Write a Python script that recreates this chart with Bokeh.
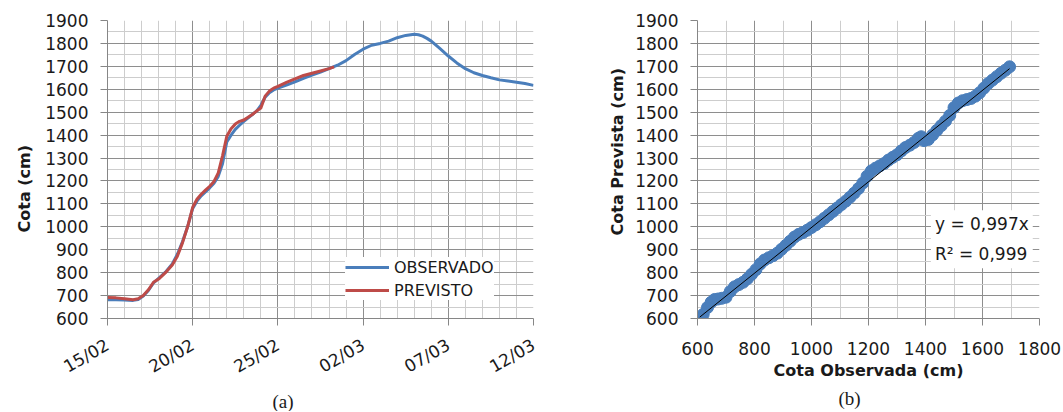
import math
from bokeh.plotting import figure
from bokeh.layouts import row
from bokeh.models import Range1d, FixedTicker, Label, Legend, LegendItem, Title
from bokeh.embed import file_html
from bokeh.resources import INLINE

# ---------------- data: chart (a) ----------------
date_ticks = [0, 5, 10, 15, 20, 25]
date_labels = ["15/02", "20/02", "25/02", "02/03", "07/03", "12/03"]

obs_day = [0, 0.5, 1, 1.5, 1.8, 2.1, 2.4, 2.7, 3.0, 3.4, 3.8, 4.1, 4.4, 4.7, 5.0, 5.25, 5.5,
           5.75, 6.0, 6.25, 6.5, 6.75, 7.0, 7.25, 7.5, 7.75, 8.0, 8.5, 8.75, 9.0, 9.25, 9.5,
           9.75, 10, 10.5, 11, 11.5, 12, 12.5, 13, 13.5, 14, 14.5, 15, 15.5, 16, 16.5, 17,
           17.5, 18, 18.25, 18.5, 18.75, 19, 19.5, 20, 20.5, 21, 21.5, 22, 22.5, 23, 23.5,
           24, 24.5, 25]
obs_val = [682, 682, 681, 679, 683, 698, 722, 755, 775, 802, 838, 880, 935, 1000, 1080, 1112,
           1135, 1152, 1170, 1190, 1220, 1275, 1370, 1400, 1425, 1443, 1460, 1490, 1505, 1530,
           1565, 1585, 1597, 1605, 1618, 1632, 1648, 1662, 1675, 1690, 1705, 1725, 1752, 1775,
           1792, 1800, 1810, 1825, 1835, 1840, 1838, 1832, 1822, 1810, 1778, 1745, 1715, 1690,
           1672, 1660, 1650, 1641, 1636, 1631, 1625, 1617]

prev_day = [0, 0.5, 1, 1.5, 1.8, 2.1, 2.4, 2.7, 3.0, 3.4, 3.8, 4.1, 4.4, 4.7, 5.0, 5.25, 5.5,
            5.75, 6.0, 6.25, 6.5, 6.75, 7.0, 7.25, 7.5, 7.75, 8.0, 8.5, 8.75, 9.0, 9.25, 9.5,
            9.75, 10, 10.5, 11, 11.5, 12, 12.5, 13, 13.3]
prev_val = [692, 690, 686, 682, 686, 700, 725, 758, 772, 800, 833, 872, 930, 1000, 1085, 1120,
            1142, 1160, 1177, 1198, 1235, 1310, 1395, 1428, 1448, 1460, 1466, 1490, 1505, 1518,
            1570, 1592, 1605, 1613, 1630, 1645, 1660, 1670, 1680, 1690, 1698]

# ---------------- data: chart (b) ----------------
cota_obs = [608, 620, 635, 648, 660, 672, 685, 700, 715, 730, 745, 760, 775, 790, 805, 820,
            835, 850, 865, 880, 895, 910, 925, 940, 955, 970, 985, 1000, 1015, 1030, 1045,
            1060, 1075, 1090, 1105, 1120, 1135, 1150, 1165, 1180, 1195, 1210, 1225, 1240,
            1255, 1270, 1285, 1300, 1315, 1330, 1345, 1360, 1375, 1385, 1395, 1410, 1425,
            1440, 1455, 1470, 1485, 1500, 1515, 1530, 1545, 1560, 1575, 1590, 1605, 1620,
            1635, 1650, 1665, 1680, 1695]
cota_prev = [603, 618, 648, 671, 683, 685, 688, 693, 718, 738, 748, 758, 773, 793, 813, 838,
             855, 865, 874, 885, 902, 919, 937, 955, 967, 975, 985, 997, 1009, 1022, 1037,
             1052, 1067, 1082, 1097, 1112, 1129, 1147, 1167, 1191, 1221, 1244, 1256, 1266,
             1276, 1291, 1303, 1314, 1331, 1346, 1356, 1368, 1386, 1393, 1376, 1381, 1401,
             1421, 1441, 1461, 1486, 1520, 1540, 1550, 1555, 1560, 1570, 1585, 1605, 1625,
             1640, 1655, 1670, 1683, 1698]
trend_slope = 0.997
eq_text = "y = 0,997x\nR² = 0,999"

# ---------------- style ----------------
BLUE = "#4A7EBB"
RED = "#BE4B48"
MAJ = "#8E8E8E"
MIN = "#CDCDCD"
AX = "#868686"
TXT = "#1a1a1a"
FONT = "DejaVu Sans"


def style(p, xt, xminor, yt, yminor):
    p.outline_line_color = None
    p.background_fill_color = "white"
    p.border_fill_color = "white"
    p.xaxis.ticker = FixedTicker(ticks=xt, minor_ticks=xminor)
    p.yaxis.ticker = FixedTicker(ticks=yt, minor_ticks=yminor)
    for ax in (p.xaxis[0], p.yaxis[0]):
        ax.axis_line_color = AX
        ax.major_tick_line_color = AX
        ax.major_tick_out = 7
        ax.major_tick_in = 0
        ax.minor_tick_line_color = None
        ax.major_label_text_font = FONT
        ax.major_label_text_font_size = "17px"
        ax.major_label_text_color = TXT
        ax.major_label_standoff = 12
        ax.axis_label_text_font = FONT
        ax.axis_label_text_font_size = "16px"
        ax.axis_label_text_font_style = "bold"
        ax.axis_label_text_color = TXT
    p.xgrid.grid_line_color = MAJ
    p.ygrid.grid_line_color = MAJ
    p.xgrid.minor_grid_line_color = MIN
    p.ygrid.minor_grid_line_color = MIN
    p.xgrid.level = "underlay"
    p.ygrid.level = "underlay"


def caption(p, text, offset, standoff):
    p.add_layout(Title(text=text, align="left", offset=offset, text_font="Liberation Serif",
                       text_font_size="19px", text_font_style="normal", text_color=TXT,
                       standoff=standoff), "below")


def ytitle(p, text, offset, standoff):
    p.add_layout(Title(text=text, align="left", offset=offset, text_font=FONT,
                       text_font_size="16px", text_font_style="bold", text_color=TXT,
                       standoff=standoff), "left")


yt = list(range(600, 1901, 100))
ym = list(range(650, 1900, 100))

# ---------------- chart (a) ----------------
p1 = figure(frame_width=426, frame_height=298, output_backend="svg", toolbar_location=None,
            x_range=Range1d(0, 25), y_range=Range1d(600, 1900),
            min_border_left=107, min_border_right=27, min_border_top=20, min_border_bottom=10)
style(p1, date_ticks, [d for d in range(26) if d % 5], yt, ym)
p1.xaxis.major_label_overrides = {t: l for t, l in zip(date_ticks, date_labels)}
p1.xaxis.major_label_orientation = 0.52
p1.xaxis.major_label_standoff = 18
ytitle(p1, "Cota (cm)", 86, 17)

r_obs = p1.line(obs_day, obs_val, color=BLUE, line_width=3, line_join="round")
r_prev = p1.line(prev_day, prev_val, color=RED, line_width=3, line_join="round")

leg = Legend(items=[LegendItem(label="OBSERVADO", renderers=[r_obs]),
                    LegendItem(label="PREVISTO", renderers=[r_prev])],
             location=(238, 18), border_line_color=None, background_fill_color="white",
             background_fill_alpha=1.0, label_text_font=FONT, label_text_font_size="16px",
             label_text_color=TXT, glyph_width=44, glyph_height=20, label_height=20,
             label_standoff=5, padding=6, spacing=3, margin=0)
p1.add_layout(leg, "center")
caption(p1, "(a)", 165, 0)

# ---------------- chart (b) ----------------
p2 = figure(frame_width=342, frame_height=298, output_backend="svg", toolbar_location=None,
            x_range=Range1d(600, 1800), y_range=Range1d(600, 1900),
            min_border_left=137, min_border_right=24, min_border_top=20, min_border_bottom=10)
style(p2, list(range(600, 1801, 200)), list(range(700, 1800, 200)), yt, ym)
p2.xaxis.major_label_standoff = 16
p2.xaxis.axis_label = "Cota Observada (cm)"
p2.xaxis.axis_label_standoff = 3
ytitle(p2, "Cota Prevista (cm)", 83, 12)

p2.scatter(cota_obs, cota_prev, size=12, color=BLUE, line_color=BLUE)
x0, x1 = min(cota_obs), max(cota_obs)
p2.line([x0, x1], [trend_slope * x0, trend_slope * x1], color="black", line_width=1)

p2.add_layout(Label(x=1419, y=1072, text=eq_text, text_align="left", text_baseline="top",
                    text_font=FONT, text_font_size="17px", text_color=TXT,
                    text_line_height=1.5, background_fill_color="white",
                    background_fill_alpha=1.0, padding=4))
caption(p2, "(b)", 141, 7)

layout = row(p1, p2)
open("out.html", "w").write(file_html(layout, INLINE))
